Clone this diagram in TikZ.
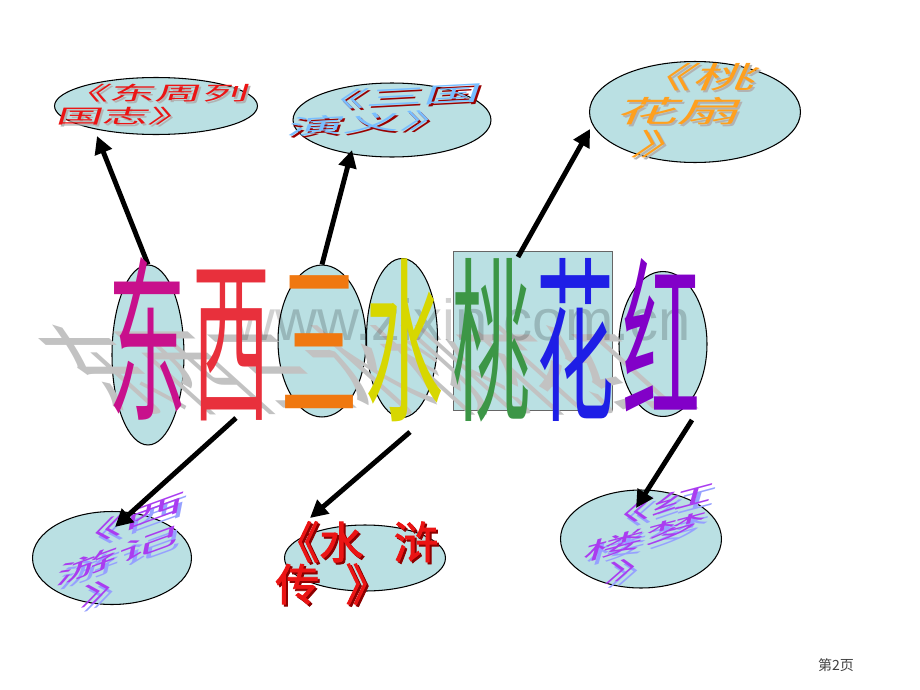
\documentclass[tikz,border=0pt]{standalone}
\usepackage{fontspec}
\setsansfont{Liberation Sans}
\newfontfamily\cjk{Noto Sans CJK SC}
\newfontfamily\cjkbold[FakeBold=2]{Noto Sans CJK SC}
\usetikzlibrary{positioning, arrows.meta, shapes.geometric}
\definecolor{tealfill}{RGB}{186,224,227}
\definecolor{dongc}{RGB}{200,16,140}
\definecolor{xic}{RGB}{232,48,60}
\definecolor{sanc}{RGB}{240,120,16}
\definecolor{shuic}{RGB}{215,215,0}
\definecolor{taoc}{RGB}{60,150,70}
\definecolor{huac}{RGB}{30,30,230}
\definecolor{hongc}{RGB}{130,0,200}
\definecolor{titlered}{RGB}{235,20,20}
\definecolor{titleblue}{RGB}{120,190,255}
\definecolor{titleorange}{RGB}{255,160,30}
\definecolor{titlepurple}{RGB}{170,60,240}
\definecolor{shadowblue}{RGB}{150,160,255}
\tikzset{
  oval/.style={
    draw,
    ellipse,
    fill=tealfill,
    line width=0.6pt,
    inner sep=0pt
  },
  bigchar/.style={
    anchor=base,
    inner sep=0pt,
    xscale=0.44,
    font=\cjk\fontsize{101}{101}\selectfont
  },
  booktitle/.style={
    inner sep=0pt,
    align=left
  },
  link/.style={
    line width=2.8pt,
    -{Triangle[length=10pt, width=10pt]}
  }
}

\begin{document}
\begin{tikzpicture}[x=0.02cm, y=-0.02cm]
    \useasboundingbox (0,0) rectangle (920,690);

    % ovals
    \node[oval, minimum width=4.06cm, minimum height=1.14cm] (dongzhou) at (156,106) {};
    \node[oval, minimum width=3.96cm, minimum height=1.48cm] (sanguo) at (392,120) {};
    \node[oval, minimum width=4.22cm, minimum height=2.02cm] (taohua) at (695,112) {};
    \node[oval, minimum width=1.44cm, minimum height=3.6cm] (dong-oval) at (148,355) {};
    \node[oval, minimum width=1.76cm, minimum height=3.04cm] (san-oval) at (322,341) {};
    \node[oval, minimum width=1.42cm, minimum height=3.18cm] (shui-oval) at (402,338) {};
    \node[draw=black!60, fill=tealfill, minimum width=3.18cm, minimum height=3.18cm, inner sep=0pt] (tao-box) at (532.5,330.5) {};
    \node[oval, minimum width=1.76cm, minimum height=2.9cm] (hong-oval) at (663,344) {};
    \node[oval, minimum width=3.18cm, minimum height=1.86cm] (xiyou) at (112,558) {};
    \node[oval, minimum width=3.22cm, minimum height=1.32cm] (shuihu) at (365,558) {};
    \node[oval, minimum width=3.22cm, minimum height=1.96cm] (honglou) at (641,539) {};

    % book titles
    \node[booktitle, anchor=west, text=black!30, font=\cjk\fontsize{11}{13}\selectfont, xslant=0.3, xscale=2.4] (dongzhou-sh) at (62,107) {《东周列\\国志》};
    \node[booktitle, anchor=west, text=titlered, font=\cjk\fontsize{11}{13}\selectfont, xslant=0.3, xscale=2.4] (dongzhou-t) at (60,105) {《东周列\\国志》};
    \node[booktitle, anchor=west, text=red!60!black, font=\cjk\fontsize{12}{14}\selectfont, rotate=3, xslant=0.4, xscale=2.7] (sanguo-sh) at (294,117) {\hspace*{0.25em}《三国\\演义》};
    \node[booktitle, anchor=west, text=titleblue, font=\cjk\fontsize{12}{14}\selectfont, rotate=3, xslant=0.4, xscale=2.7] (sanguo-t) at (292,115) {\hspace*{0.25em}《三国\\演义》};
    \node[booktitle, align=center, text=black!30, font=\cjk\fontsize{17}{19}\selectfont, xslant=0.45, xscale=2.1] (taohua-sh) at (684,113) {《桃\\花扇\\》};
    \node[booktitle, align=center, text=titleorange, font=\cjk\fontsize{17}{19}\selectfont, xslant=0.45, xscale=2.1] (taohua-t) at (682,111) {《桃\\花扇\\》};
    \node[booktitle, align=center, text=shadowblue, font=\cjk\fontsize{12}{16}\selectfont, rotate=20, xslant=0.6, xscale=3.1] (xiyou-sh) at (121,559) {《西\\游记\\》};
    \node[booktitle, align=center, text=titlepurple, font=\cjk\fontsize{12}{16}\selectfont, rotate=20, xslant=0.6, xscale=3.1] (xiyou-t) at (118,555) {《西\\游记\\》};
    \node[booktitle, anchor=west, text=red!55!black, font=\cjkbold\fontsize{25}{24}\selectfont] (shuihu-sh) at (277,565) {《水\hspace{0.7em}浒\\传\hspace{0.6em}》};
    \node[booktitle, anchor=west, text=titlered, font=\cjkbold\fontsize{25}{24}\selectfont] (shuihu-t) at (275,563) {《水\hspace{0.7em}浒\\传\hspace{0.6em}》};
    \node[booktitle, align=center, text=shadowblue, font=\cjk\fontsize{12}{15}\selectfont, rotate=15, xslant=0.6, xscale=3.0] (honglou-sh) at (648,541) {《红\\楼梦\\》};
    \node[booktitle, align=center, text=titlepurple, font=\cjk\fontsize{12}{15}\selectfont, rotate=15, xslant=0.6, xscale=3.0] (honglou-t) at (645,537) {《红\\楼梦\\》};

    % shadow and watermark
    \node[anchor=base west, inner sep=0pt, text=black!24, font=\cjk\fontsize{101}{101}\selectfont, cm={0.477,0,-0.61,0.55,(0,0)}] (reflect) at (108,407) {东西三水桃花红};
    \node[anchor=base west, inner sep=0pt, font=\sffamily\fontsize{33}{33}\selectfont, text=black, opacity=0.18] (mark) at (233,340) {www.zixin.com.cn};

    % arrows
    \coordinate (tip1) at (97,136);
    \coordinate (tip2) at (352,150);
    \coordinate (tail3) at (518,257);
    \coordinate (tip3) at (590,129);
    \coordinate (tail4) at (236,418);
    \coordinate (tip4) at (115,527);
    \coordinate (tail5) at (410,432);
    \coordinate (tip5) at (310,518);
    \coordinate (tail6) at (692,420);
    \coordinate (tip6) at (636,508);
    \draw[link] (dong-oval.north) -- (tip1);
    \draw[link] (san-oval.north) -- (tip2);
    \draw[link] (tail3) -- (tip3);
    \draw[link] (tail4) -- (tip4);
    \draw[link] (tail5) -- (tip5);
    \draw[link] (tail6) -- (tip6);

    % big characters
    \node[bigchar, text=dongc] (dong) at (148,407) {东};
    \node[bigchar, text=xic] (xi) at (232,407) {西};
    \node[bigchar, text=sanc] (san) at (320,407) {三};
    \node[bigchar, text=shuic] (shui) at (405,407) {水};
    \node[bigchar, text=taoc] (tao) at (492,407) {桃};
    \node[bigchar, text=huac] (hua) at (576,407) {花};
    \node[bigchar, text=hongc] (hong) at (662,407) {红};

    \node[font=\cjk\fontsize{8}{8}\selectfont, text=black!75] (page) at (836,665) {第2页};
\end{tikzpicture}
\end{document}
